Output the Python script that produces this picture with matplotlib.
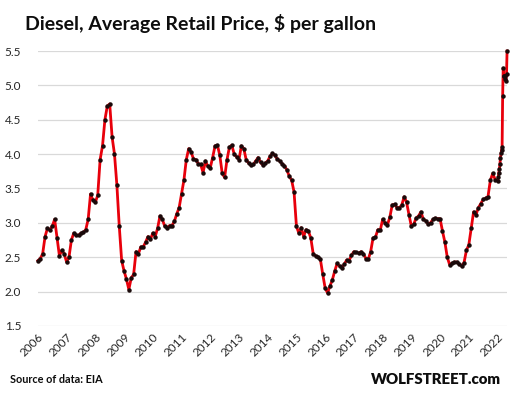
import matplotlib
matplotlib.use("Agg")
import matplotlib.pyplot as plt
import numpy as np

# Monthly average diesel retail price ($/gal), Jan 2006 .. Dec 2021
years = list(range(2006, 2022))
monthly = {
    2006: [2.45, 2.48, 2.55, 2.80, 2.92, 2.90, 2.95, 3.05, 2.78, 2.52, 2.60, 2.55],
    2007: [2.43, 2.50, 2.75, 2.85, 2.82, 2.82, 2.85, 2.86, 2.90, 3.05, 3.42, 3.33],
    2008: [3.30, 3.40, 3.92, 4.12, 4.50, 4.70, 4.73, 4.25, 4.00, 3.55, 2.95, 2.45],
    2009: [2.30, 2.18, 2.03, 2.20, 2.25, 2.58, 2.55, 2.65, 2.65, 2.72, 2.80, 2.76],
    2010: [2.85, 2.80, 2.92, 3.10, 3.05, 2.95, 2.93, 2.96, 2.96, 3.02, 3.13, 3.22],
    2011: [3.42, 3.62, 3.92, 4.08, 4.03, 3.93, 3.92, 3.86, 3.85, 3.73, 3.90, 3.82],
    2012: [3.80, 3.95, 4.12, 4.13, 3.98, 3.72, 3.66, 3.92, 4.10, 4.13, 4.00, 3.96],
    2013: [3.92, 4.12, 4.08, 3.92, 3.87, 3.84, 3.85, 3.90, 3.95, 3.88, 3.84, 3.87],
    2014: [3.90, 3.97, 4.01, 3.98, 3.93, 3.90, 3.86, 3.83, 3.77, 3.68, 3.62, 3.45],
    2015: [2.95, 2.85, 2.93, 2.80, 2.90, 2.88, 2.78, 2.55, 2.52, 2.50, 2.47, 2.25],
    2016: [2.05, 1.98, 2.08, 2.17, 2.30, 2.41, 2.37, 2.35, 2.40, 2.46, 2.45, 2.53],
    2017: [2.58, 2.57, 2.56, 2.58, 2.55, 2.48, 2.47, 2.58, 2.78, 2.79, 2.90, 2.89],
    2018: [3.05, 3.00, 2.97, 3.08, 3.26, 3.27, 3.22, 3.22, 3.26, 3.38, 3.30, 3.12],
    2019: [2.95, 2.98, 3.07, 3.10, 3.16, 3.05, 3.03, 2.98, 3.00, 3.05, 3.07, 3.06],
    2020: [3.06, 2.88, 2.72, 2.50, 2.39, 2.41, 2.43, 2.43, 2.40, 2.37, 2.42, 2.60],
    2021: [2.68, 2.92, 3.16, 3.12, 3.22, 3.28, 3.34, 3.36, 3.38, 3.62, 3.72, 3.63],
}
# Weekly prices 2022 (day of year, price)
w2022_days = [3, 10, 17, 24, 31, 38, 45, 52, 59, 66, 73, 80, 87, 94, 101, 108, 115, 122]
w2022_vals = [3.61, 3.66, 3.73, 3.78, 3.85, 3.95, 4.01, 4.06, 4.10, 4.85, 5.25, 5.13,
              5.14, 5.14, 5.10, 5.07, 5.16, 5.50]

title = "Diesel, Average Retail Price, $ per gallon"
source = "Source of data: EIA"
brand = "WOLFSTREET.com"
yticks = [1.5, 2.0, 2.5, 3.0, 3.5, 4.0, 4.5, 5.0, 5.5]
xyears = list(range(2006, 2023))

x = []
y = []
for yr in years:
    for m, v in enumerate(monthly[yr]):
        x.append(yr + m / 12.0)
        y.append(v)
for d, v in zip(w2022_days, w2022_vals):
    x.append(2022 + (d - 1) / 365.0)
    y.append(v)

fig = plt.figure(figsize=(5.26, 3.97), dpi=100)
ax = fig.add_axes([0.072, 0.179, 0.892, 0.6925])
ax.plot(x, y, color="#e8000b", lw=2.0, zorder=3, clip_on=False)
ax.plot(x, y, ls="none", marker="o", ms=2.2, color="#1a0a0a", zorder=4, clip_on=False)

ax.set_ylim(1.5, 5.5)
ax.set_xlim(2006, 2022 + 121 / 365.0)
ax.set_yticks(yticks)
ax.set_yticklabels([f"{t:.1f}" for t in yticks], fontfamily="Lato", fontsize=8.5, color="#262626")
ax.set_xticks(xyears)
ax.set_xticklabels([str(t) for t in xyears], rotation=45, ha="right", va="top",
                   rotation_mode="anchor", fontfamily="Lato", fontsize=8.5, color="#262626")
ax.tick_params(axis="both", length=0, pad=4)
ax.tick_params(axis="y", pad=12)
ax.grid(axis="y", color="#d9d9d9", lw=0.9)
ax.set_axisbelow(True)
for s in ax.spines.values():
    s.set_visible(False)

fig.text(25 / 526, 1 - 30 / 397, title, fontfamily="Lato", fontweight="bold",
         fontsize=14, color="#0d0d0d", va="baseline", ha="left")
fig.text(10 / 526, 1 - 383 / 397, source, fontfamily="Lato", fontweight="bold",
         fontsize=7.8, color="#0d0d0d", va="baseline", ha="left")
fig.text(501 / 526, 1 - 384 / 397, brand, fontfamily="Lato", fontweight="heavy",
         fontsize=10.8, color="#0d0d0d", va="baseline", ha="right")

fig.savefig("out.png", dpi=100)
